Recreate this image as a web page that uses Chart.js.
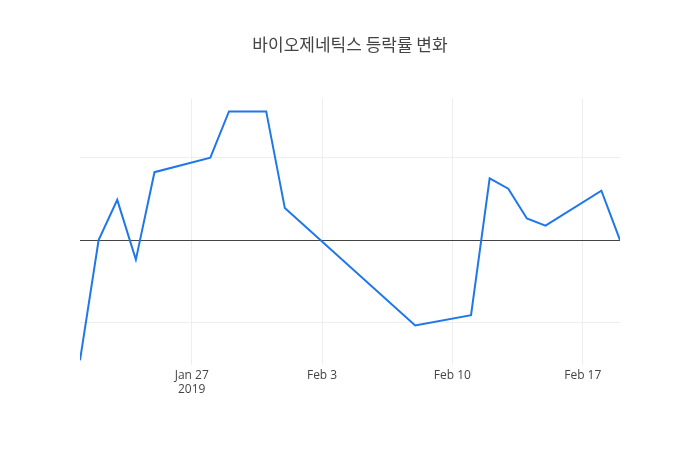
<!DOCTYPE html>
<html><head><meta charset="utf-8">
<script src="https://cdn.jsdelivr.net/npm/chart.js@4"></script>
<style>body{margin:0;background:#fff}#w{width:700px;height:450px}</style>
</head><body><div id="w"><canvas id="c"></canvas></div>
<script>
// days relative to Jan 27, 2019
const days = [-6, -5, -4, -3, -2, 1, 2, 4, 5, 12, 15, 16, 17, 18, 19, 22, 23];
const values = [-7.3, 0, 2.44, -1.19, 4.12, 5, 7.81, 7.81, 1.94, -5.19, -4.56, 3.75, 3.12, 1.31, 0.87, 3.0, 0];
const tickDays = [0, 7, 14, 21];
const tickLabels = [["Jan 27", "2019"], "Feb 3", "Feb 10", "Feb 17"];

new Chart(document.getElementById("c"), {
  type: "line",
  data: { datasets: [{ data: days.map((d, i) => ({ x: d, y: values[i] })), borderColor: "#1f77e8", borderWidth: 2, pointRadius: 0, tension: 0 }] },
  options: {
    responsive: true, maintainAspectRatio: false, animation: false,
    layout: { padding: { top: 10, right: 80, bottom: 50, left: 80 } },
    plugins: {
      legend: { display: false },
      title: { display: true, text: "바이오제네틱스 등락률 변화", color: "#444", font: { family: "Noto Sans CJK KR", size: 17, weight: "normal" }, padding: { top: 24, bottom: 44 } }
    },
    scales: {
      x: {
        type: "linear", min: -6, max: 23,
        afterBuildTicks: s => { s.ticks = tickDays.map(v => ({ value: v })); },
        ticks: { callback: v => tickLabels[tickDays.indexOf(v)], color: "#444", font: { family: "Open Sans", size: 12 }, maxRotation: 0 },
        grid: { color: "#eee", drawTicks: false }, border: { display: false }
      },
      y: {
        min: -7.6, max: 8.6,
        afterFit: s => { s.width = 0; },
        afterBuildTicks: s => { s.ticks = [-5, 0, 5].map(v => ({ value: v })); },
        ticks: { color: "#444", font: { family: "Open Sans", size: 12 }, padding: 8 },
        grid: { color: c => c.tick && c.tick.value === 0 ? "#444" : "#eee", drawTicks: false }, border: { display: false }
      }
    }
  }
});
</script></body></html>
